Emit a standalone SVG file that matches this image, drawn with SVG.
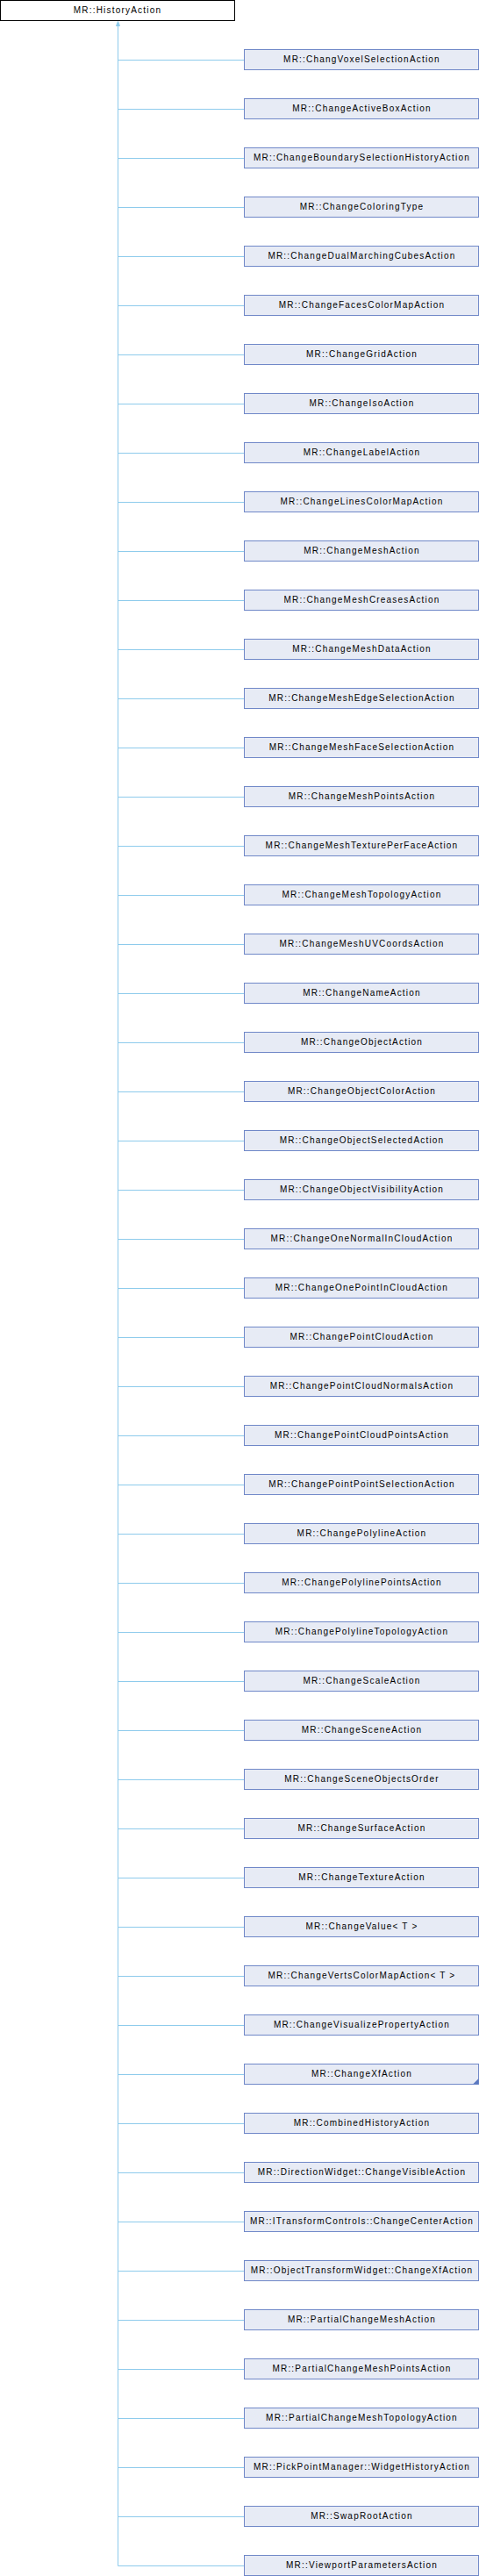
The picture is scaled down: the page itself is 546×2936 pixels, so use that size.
<svg xmlns="http://www.w3.org/2000/svg" width="546" height="2936" viewBox="0 0 546 2936">
<style>
.bg{fill:#ffffff}
.root rect{fill:#ffffff;stroke:#000000;stroke-width:1}
.n rect{fill:#e7ebf5;stroke:#7088c8;stroke-width:1}
text{font-family:"Liberation Sans",Arial,sans-serif;font-size:10px;letter-spacing:1.2px;fill:#000000;text-anchor:middle}
.e{stroke:#8ecbec;stroke-width:1;fill:none}
.ah{fill:#8ecbec;stroke:#8ecbec;stroke-width:1}
.fold{fill:#5a78c0}
</style>
<rect class="bg" x="0" y="0" width="546" height="2936"/>
<g id="connectors">
<line class="e" x1="134.5" y1="29" x2="134.5" y2="2924.5"/>
<polygon class="ah" points="134.5,24.5 132.5,29.5 136.5,29.5"/>
<path class="e" d="M278.5,68.5H134.5M278.5,124.5H134.5M278.5,180.5H134.5M278.5,236.5H134.5M278.5,292.5H134.5M278.5,348.5H134.5M278.5,404.5H134.5M278.5,460.5H134.5M278.5,516.5H134.5M278.5,572.5H134.5M278.5,628.5H134.5M278.5,684.5H134.5M278.5,740.5H134.5M278.5,796.5H134.5M278.5,852.5H134.5M278.5,908.5H134.5M278.5,964.5H134.5M278.5,1020.5H134.5M278.5,1076.5H134.5M278.5,1132.5H134.5M278.5,1188.5H134.5M278.5,1244.5H134.5M278.5,1300.5H134.5M278.5,1356.5H134.5M278.5,1412.5H134.5M278.5,1468.5H134.5M278.5,1524.5H134.5M278.5,1580.5H134.5M278.5,1636.5H134.5M278.5,1692.5H134.5M278.5,1748.5H134.5M278.5,1804.5H134.5M278.5,1860.5H134.5M278.5,1916.5H134.5M278.5,1972.5H134.5M278.5,2028.5H134.5M278.5,2084.5H134.5M278.5,2140.5H134.5M278.5,2196.5H134.5M278.5,2252.5H134.5M278.5,2308.5H134.5M278.5,2364.5H134.5M278.5,2420.5H134.5M278.5,2476.5H134.5M278.5,2532.5H134.5M278.5,2588.5H134.5M278.5,2644.5H134.5M278.5,2700.5H134.5M278.5,2756.5H134.5M278.5,2812.5H134.5M278.5,2868.5H134.5M278.5,2924.5H134.5"/>
</g>
<g id="root" class="root"><rect x="0.5" y="0.5" width="267" height="23"/><text x="134" y="15">MR::HistoryAction</text></g>
<g id="n1" class="n"><rect x="278.5" y="56.5" width="267" height="23"/><text x="412.5" y="71">MR::ChangVoxelSelectionAction</text></g>
<g id="n2" class="n"><rect x="278.5" y="112.5" width="267" height="23"/><text x="412.5" y="127">MR::ChangeActiveBoxAction</text></g>
<g id="n3" class="n"><rect x="278.5" y="168.5" width="267" height="23"/><text x="412.5" y="183">MR::ChangeBoundarySelectionHistoryAction</text></g>
<g id="n4" class="n"><rect x="278.5" y="224.5" width="267" height="23"/><text x="412.5" y="239">MR::ChangeColoringType</text></g>
<g id="n5" class="n"><rect x="278.5" y="280.5" width="267" height="23"/><text x="412.5" y="295">MR::ChangeDualMarchingCubesAction</text></g>
<g id="n6" class="n"><rect x="278.5" y="336.5" width="267" height="23"/><text x="412.5" y="351">MR::ChangeFacesColorMapAction</text></g>
<g id="n7" class="n"><rect x="278.5" y="392.5" width="267" height="23"/><text x="412.5" y="407">MR::ChangeGridAction</text></g>
<g id="n8" class="n"><rect x="278.5" y="448.5" width="267" height="23"/><text x="412.5" y="463">MR::ChangeIsoAction</text></g>
<g id="n9" class="n"><rect x="278.5" y="504.5" width="267" height="23"/><text x="412.5" y="519">MR::ChangeLabelAction</text></g>
<g id="n10" class="n"><rect x="278.5" y="560.5" width="267" height="23"/><text x="412.5" y="575">MR::ChangeLinesColorMapAction</text></g>
<g id="n11" class="n"><rect x="278.5" y="616.5" width="267" height="23"/><text x="412.5" y="631">MR::ChangeMeshAction</text></g>
<g id="n12" class="n"><rect x="278.5" y="672.5" width="267" height="23"/><text x="412.5" y="687">MR::ChangeMeshCreasesAction</text></g>
<g id="n13" class="n"><rect x="278.5" y="728.5" width="267" height="23"/><text x="412.5" y="743">MR::ChangeMeshDataAction</text></g>
<g id="n14" class="n"><rect x="278.5" y="784.5" width="267" height="23"/><text x="412.5" y="799">MR::ChangeMeshEdgeSelectionAction</text></g>
<g id="n15" class="n"><rect x="278.5" y="840.5" width="267" height="23"/><text x="412.5" y="855">MR::ChangeMeshFaceSelectionAction</text></g>
<g id="n16" class="n"><rect x="278.5" y="896.5" width="267" height="23"/><text x="412.5" y="911">MR::ChangeMeshPointsAction</text></g>
<g id="n17" class="n"><rect x="278.5" y="952.5" width="267" height="23"/><text x="412.5" y="967">MR::ChangeMeshTexturePerFaceAction</text></g>
<g id="n18" class="n"><rect x="278.5" y="1008.5" width="267" height="23"/><text x="412.5" y="1023">MR::ChangeMeshTopologyAction</text></g>
<g id="n19" class="n"><rect x="278.5" y="1064.5" width="267" height="23"/><text x="412.5" y="1079">MR::ChangeMeshUVCoordsAction</text></g>
<g id="n20" class="n"><rect x="278.5" y="1120.5" width="267" height="23"/><text x="412.5" y="1135">MR::ChangeNameAction</text></g>
<g id="n21" class="n"><rect x="278.5" y="1176.5" width="267" height="23"/><text x="412.5" y="1191">MR::ChangeObjectAction</text></g>
<g id="n22" class="n"><rect x="278.5" y="1232.5" width="267" height="23"/><text x="412.5" y="1247">MR::ChangeObjectColorAction</text></g>
<g id="n23" class="n"><rect x="278.5" y="1288.5" width="267" height="23"/><text x="412.5" y="1303">MR::ChangeObjectSelectedAction</text></g>
<g id="n24" class="n"><rect x="278.5" y="1344.5" width="267" height="23"/><text x="412.5" y="1359">MR::ChangeObjectVisibilityAction</text></g>
<g id="n25" class="n"><rect x="278.5" y="1400.5" width="267" height="23"/><text x="412.5" y="1415">MR::ChangeOneNormalInCloudAction</text></g>
<g id="n26" class="n"><rect x="278.5" y="1456.5" width="267" height="23"/><text x="412.5" y="1471">MR::ChangeOnePointInCloudAction</text></g>
<g id="n27" class="n"><rect x="278.5" y="1512.5" width="267" height="23"/><text x="412.5" y="1527">MR::ChangePointCloudAction</text></g>
<g id="n28" class="n"><rect x="278.5" y="1568.5" width="267" height="23"/><text x="412.5" y="1583">MR::ChangePointCloudNormalsAction</text></g>
<g id="n29" class="n"><rect x="278.5" y="1624.5" width="267" height="23"/><text x="412.5" y="1639">MR::ChangePointCloudPointsAction</text></g>
<g id="n30" class="n"><rect x="278.5" y="1680.5" width="267" height="23"/><text x="412.5" y="1695">MR::ChangePointPointSelectionAction</text></g>
<g id="n31" class="n"><rect x="278.5" y="1736.5" width="267" height="23"/><text x="412.5" y="1751">MR::ChangePolylineAction</text></g>
<g id="n32" class="n"><rect x="278.5" y="1792.5" width="267" height="23"/><text x="412.5" y="1807">MR::ChangePolylinePointsAction</text></g>
<g id="n33" class="n"><rect x="278.5" y="1848.5" width="267" height="23"/><text x="412.5" y="1863">MR::ChangePolylineTopologyAction</text></g>
<g id="n34" class="n"><rect x="278.5" y="1904.5" width="267" height="23"/><text x="412.5" y="1919">MR::ChangeScaleAction</text></g>
<g id="n35" class="n"><rect x="278.5" y="1960.5" width="267" height="23"/><text x="412.5" y="1975">MR::ChangeSceneAction</text></g>
<g id="n36" class="n"><rect x="278.5" y="2016.5" width="267" height="23"/><text x="412.5" y="2031">MR::ChangeSceneObjectsOrder</text></g>
<g id="n37" class="n"><rect x="278.5" y="2072.5" width="267" height="23"/><text x="412.5" y="2087">MR::ChangeSurfaceAction</text></g>
<g id="n38" class="n"><rect x="278.5" y="2128.5" width="267" height="23"/><text x="412.5" y="2143">MR::ChangeTextureAction</text></g>
<g id="n39" class="n"><rect x="278.5" y="2184.5" width="267" height="23"/><text x="412.5" y="2199">MR::ChangeValue&lt; T &gt;</text></g>
<g id="n40" class="n"><rect x="278.5" y="2240.5" width="267" height="23"/><text x="412.5" y="2255">MR::ChangeVertsColorMapAction&lt; T &gt;</text></g>
<g id="n41" class="n"><rect x="278.5" y="2296.5" width="267" height="23"/><text x="412.5" y="2311">MR::ChangeVisualizePropertyAction</text></g>
<g id="n42" class="n"><rect x="278.5" y="2352.5" width="267" height="23"/><text x="412.5" y="2367">MR::ChangeXfAction</text><polygon class="fold" points="545.5,2369 545.5,2375.5 539,2375.5"/></g>
<g id="n43" class="n"><rect x="278.5" y="2408.5" width="267" height="23"/><text x="412.5" y="2423">MR::CombinedHistoryAction</text></g>
<g id="n44" class="n"><rect x="278.5" y="2464.5" width="267" height="23"/><text x="412.5" y="2479">MR::DirectionWidget::ChangeVisibleAction</text></g>
<g id="n45" class="n"><rect x="278.5" y="2520.5" width="267" height="23"/><text x="412.5" y="2535">MR::ITransformControls::ChangeCenterAction</text></g>
<g id="n46" class="n"><rect x="278.5" y="2576.5" width="267" height="23"/><text x="412.5" y="2591">MR::ObjectTransformWidget::ChangeXfAction</text></g>
<g id="n47" class="n"><rect x="278.5" y="2632.5" width="267" height="23"/><text x="412.5" y="2647">MR::PartialChangeMeshAction</text></g>
<g id="n48" class="n"><rect x="278.5" y="2688.5" width="267" height="23"/><text x="412.5" y="2703">MR::PartialChangeMeshPointsAction</text></g>
<g id="n49" class="n"><rect x="278.5" y="2744.5" width="267" height="23"/><text x="412.5" y="2759">MR::PartialChangeMeshTopologyAction</text></g>
<g id="n50" class="n"><rect x="278.5" y="2800.5" width="267" height="23"/><text x="412.5" y="2815">MR::PickPointManager::WidgetHistoryAction</text></g>
<g id="n51" class="n"><rect x="278.5" y="2856.5" width="267" height="23"/><text x="412.5" y="2871">MR::SwapRootAction</text></g>
<g id="n52" class="n"><rect x="278.5" y="2912.5" width="267" height="23"/><text x="412.5" y="2927">MR::ViewportParametersAction</text></g>
</svg>
